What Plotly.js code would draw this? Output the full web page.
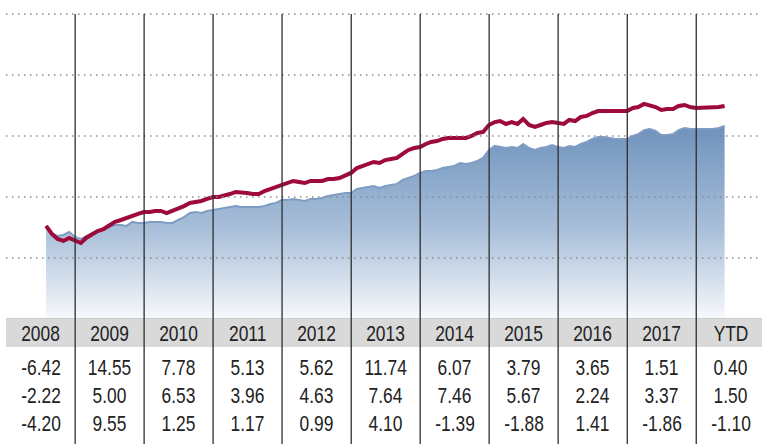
<!DOCTYPE html>
<html>
<head>
<meta charset="utf-8">
<script src="https://cdn.plot.ly/plotly-3.0.1.min.js"></script>
<style>
  html, body { margin: 0; padding: 0; background: #ffffff; }
  #chart { width: 762px; height: 444px; }
  /* condensed look for the table text (no narrow font installed) */
  #chart .annotation-text {
    transform-box: fill-box;
    transform-origin: center;
    transform: scaleX(0.79);
  }
</style>
</head>
<body>
<div id="chart"></div>
<script>
// ---- Data ----
// Monthly series, month-end values, July 2008 .. May 2018 (growth values)
var startYear = 2008, startMonth = 7; // July 2008
var fundValues = [
  9840, 9380, 9090, 8980, 9150, 8980,
  8860, 9150, 9380, 9550, 9660, 9840, 10070, 10180, 10300, 10470, 10530, 10640,
  10640, 10700, 10700, 10580, 10700, 10810, 10980, 11160, 11210, 11270, 11390, 11500,
  11500, 11560, 11670, 11790, 11730, 11730, 11670, 11670, 11840, 11960, 12070, 12190,
  12300, 12420, 12360, 12300, 12420, 12420, 12420, 12530, 12530, 12590, 12760, 12880,
  13160, 13280, 13390, 13510, 13450, 13620, 13680, 13740, 13970, 14200, 14310, 14370,
  14540, 14660, 14710, 14830, 14890, 14890, 14940, 14890, 15000, 15170, 15230, 15630,
  15800, 15860, 15690, 15800, 15690, 15980, 15630, 15520, 15630, 15750, 15800, 15750,
  15690, 15920, 15860, 16090, 16150, 16320, 16430, 16430, 16430, 16430, 16430, 16430,
  16610, 16660, 16840, 16780, 16660, 16490, 16550, 16550, 16720, 16780, 16660, 16610,
  16610, 16610, 16610, 16660, 16720
];
var benchmarkValues = [
  9840, 9430, 9260, 9320, 9490, 9210,
  9090, 9260, 9430, 9550, 9660, 9780, 9890, 9890, 9840, 10070, 10010, 10010,
  10070, 10070, 10070, 10010, 10010, 10180, 10350, 10580, 10640, 10580, 10700, 10750,
  10810, 10870, 10930, 10980, 10930, 10930, 10930, 10930, 10980, 11100, 11160, 11330,
  11330, 11390, 11330, 11270, 11390, 11390, 11440, 11560, 11620, 11670, 11730, 11730,
  11960, 12020, 12070, 12130, 12020, 12130, 12190, 12250, 12480, 12590, 12710, 12880,
  12990, 12990, 13050, 13160, 13220, 13280, 13450, 13390, 13450, 13570, 13740, 14200,
  14430, 14370, 14310, 14370, 14310, 14540, 14310, 14200, 14310, 14370, 14480, 14370,
  14310, 14430, 14370, 14540, 14660, 14830, 14940, 14940, 14890, 14830, 14830, 14830,
  15000, 15110, 15340, 15400, 15290, 15060, 15060, 15110, 15340, 15460, 15400, 15400,
  15400, 15400, 15400, 15460, 15570
];

// Table
var columnLabels = ['2008','2009','2010','2011','2012','2013','2014','2015','2016','2017','YTD'];
var columnYears  = [2008, 2009, 2010, 2011, 2012, 2013, 2014, 2015, 2016, 2017, 2018];
var fundReturns      = ['-6.42','14.55','7.78','5.13','5.62','11.74','6.07','3.79','3.65','1.51','0.40'];
var benchmarkReturns = ['-2.22','5.00','6.53','3.96','4.63','7.64','7.46','5.67','2.24','3.37','1.50'];
var differenceReturns= ['-4.20','9.55','1.25','1.17','0.99','4.10','-1.39','-1.88','1.41','-1.86','-1.10'];

// Horizontal gridline values
var gridValues = [8000, 11500, 15000, 18500, 22000];

// ---- Build ----
function pad(n){ return (n < 10 ? '0' : '') + n; }
var dates = [];
for (var i = 0; i < fundValues.length; i++) {
  var mIdx = (startMonth - 1) + i;
  var y = startYear + Math.floor(mIdx / 12);
  var m = mIdx % 12;
  var d = new Date(Date.UTC(y, m + 1, 0));    // last day of month
  dates.push(d.getUTCFullYear() + '-' + pad(d.getUTCMonth() + 1) + '-' + pad(d.getUTCDate()));
}

var yMin = 4557, yMax = 22803;
var FONT = '"Liberation Sans", Arial, sans-serif';

var traces = [
  {
    x: dates, y: benchmarkValues, type: 'scatter', mode: 'lines',
    line: { color: '#7e9dc3', width: 2 },
    fill: 'tozeroy',
    fillgradient: {
      type: 'vertical',
      start: yMin, stop: 15600,
      colorscale: [[0, 'rgb(246,248,251)'], [0.45, 'rgb(170,192,218)'], [1, 'rgb(110,146,188)']]
    },
    hoverinfo: 'skip'
  },
  {
    x: dates, y: fundValues, type: 'scatter', mode: 'lines',
    line: { color: '#9e0a3a', width: 4 },
    hoverinfo: 'skip'
  }
];

var shapes = [];
gridValues.forEach(function (v) {
  shapes.push({ type: 'line', xref: 'paper', yref: 'y', x0: 0, x1: 1, y0: v, y1: v,
    line: { color: '#8c8c8c', width: 1.5, dash: '1.5px,4.5px' }, layer: 'above' });
});
var plotH = 318;
function py(p){ return (plotH - p) / plotH; }
shapes.push({ type: 'rect', xref: 'paper', yref: 'paper', x0: 0, x1: 1, y0: py(318), y1: py(347),
  fillcolor: '#d9d9d9', line: { width: 0 }, layer: 'below' });
for (var k = 1; k < columnYears.length; k++) {
  shapes.push({ type: 'line', xref: 'x', yref: 'paper',
    x0: columnYears[k] + '-01-01', x1: columnYears[k] + '-01-01', y0: py(14), y1: py(444),
    line: { color: '#2e2e2e', width: 1.3 }, layer: 'above' });
}

var annotations = [];
var rows = [columnLabels, fundReturns, benchmarkReturns, differenceReturns];
var rowY = [333, 367, 395, 423];
rows.forEach(function (row, r) {
  row.forEach(function (txt, c) {
    annotations.push({ xref: 'x', yref: 'paper', x: columnYears[c] + '-07-02', y: py(rowY[r]),
      text: txt, showarrow: false, xanchor: 'center', yanchor: 'middle',
      font: { family: FONT, size: 22, color: '#222222' } });
  });
});

var layout = {
  width: 762, height: 444,
  margin: { l: 6, r: 0, t: 0, b: 126, pad: 0 },
  paper_bgcolor: '#ffffff', plot_bgcolor: '#ffffff',
  showlegend: false,
  xaxis: { type: 'date', range: ['2008-01-01', '2018-12-15'], showgrid: false, zeroline: false,
    showticklabels: false, ticks: '', showline: true, linecolor: '#cccccc', linewidth: 1 },
  yaxis: { range: [yMin, yMax], showgrid: false, zeroline: false, showticklabels: false, ticks: '' },
  shapes: shapes,
  annotations: annotations
};

Plotly.newPlot('chart', traces, layout, { staticPlot: true, displayModeBar: false });
</script>
</body>
</html>
